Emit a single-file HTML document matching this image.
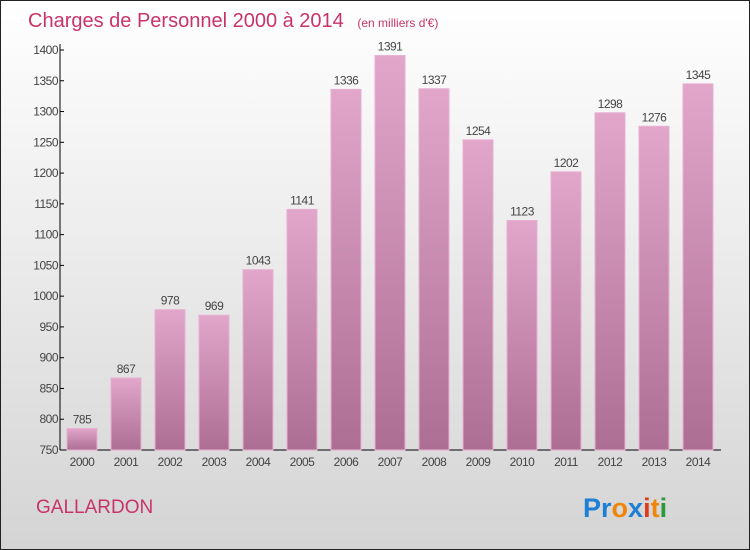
<!DOCTYPE html>
<html><head><meta charset="utf-8"><style>
body{margin:0}
#c{width:750px;height:550px;position:relative;overflow:hidden;font-family:"Liberation Sans",sans-serif}
</style></head><body>
<div id="c">
<svg width="750" height="550">
<defs>
<linearGradient id="bg" x1="0" y1="0" x2="0" y2="1"><stop offset="0" stop-color="#ffffff"/><stop offset="1" stop-color="#d4d4d4"/></linearGradient>
<linearGradient id="bar" x1="0" y1="0" x2="0" y2="1"><stop offset="0" stop-color="#e2a6cb"/><stop offset="1" stop-color="#ad6e93"/></linearGradient>
</defs>
<rect x="0.5" y="0.5" width="749" height="549" fill="url(#bg)" stroke="#222"/>
<text x="28" y="27" font-size="20" fill="#c8346a">Charges de Personnel 2000 à 2014 <tspan font-size="12" dx="8">(en milliers d'€)</tspan></text>
<g id="plot"></g>
<text x="36" y="513" font-size="19" fill="#c8346a">GALLARDON</text>
<text x="583" y="517" font-size="27" font-weight="bold"><tspan fill="#1f7fd4">Pr</tspan><tspan fill="#f0850a">o</tspan><tspan fill="#1f7fd4">x</tspan><tspan fill="#e03a1a">i</tspan><tspan fill="#f0850a">t</tspan><tspan fill="#2a9a3a">i</tspan></text>
</svg>
</div>
<script>
const years=["2000","2001","2002","2003","2004","2005","2006","2007","2008","2009","2010","2011","2012","2013","2014"];
const values=[785,867,978,969,1043,1141,1336,1391,1337,1254,1123,1202,1298,1276,1345];
const ticks=[750,800,850,900,950,1000,1050,1100,1150,1200,1250,1300,1350,1400];
const ns="http://www.w3.org/2000/svg";
const g=document.getElementById('plot');
const y=v=>450-(v-750)*400/650;
const x=i=>82+i*44;
function mk(t,a,txt){const e=document.createElementNS(ns,t);for(const k in a)e.setAttribute(k,a[k]);if(txt!==undefined)e.textContent=txt;g.appendChild(e);return e;}
let ax=mk('line',{x1:60,y1:44,x2:60,y2:450,stroke:'#000'});


let bx=mk('line',{x1:60,y1:450,x2:721,y2:450,stroke:'#000'});


ticks.forEach(t=>{
 let l=mk('line',{x1:60,y1:y(t),x2:64,y2:y(t),stroke:'#000'});
 
 
 let tx=mk('text',{x:58,y:y(t)+4,'font-size':12,'text-anchor':'end',fill:'#444','letter-spacing':'-0.5'},t);
 
 
});
values.forEach((v,i)=>{
 let r=mk('rect',{x:x(i)-15,y:y(v),width:30,height:450-y(v),fill:'url(#bar)',stroke:'#e8b0d2','stroke-width':1});
 
 
 let vl=mk('text',{x:x(i),y:y(v)-5,'font-size':12,'text-anchor':'middle',fill:'#444','letter-spacing':'-0.5'},v);
 
 
 let xl=mk('text',{x:x(i),y:466,'font-size':12,'text-anchor':'middle',fill:'#444','letter-spacing':'-0.5'},years[i]);
 
 
});
</script>
</body></html>
